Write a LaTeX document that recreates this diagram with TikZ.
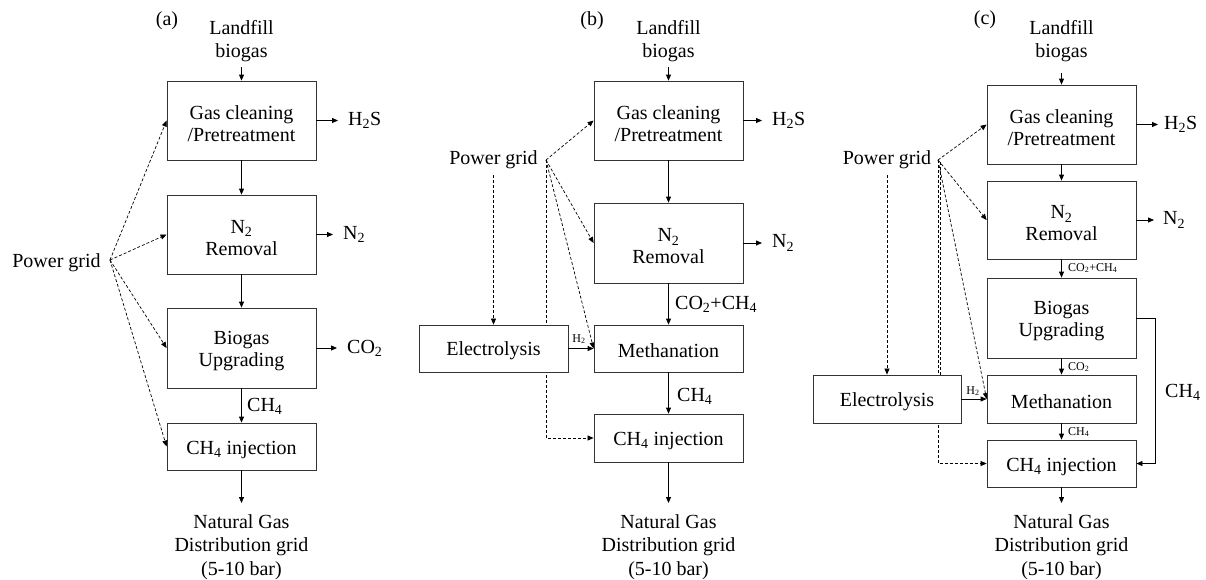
\documentclass[tikz,border=0pt]{standalone}
\usepackage{fontspec}
\setmainfont{Liberation Serif}
\usetikzlibrary{arrows.meta,backgrounds}
\newcommand\flowbox[5]{%
  \node[box, minimum height=#3] (#1) at (#2) {};
  \node[btext] (#1t) at ([yshift=-#4]#1.center) {#5};}
\begin{document}
\begin{tikzpicture}[x=1pt,y=-1pt,
  font=\fontsize{20}{22}\selectfont,
  box/.style={draw=black!80, line width=0.8pt, fill=white, minimum width=149pt, inner sep=0pt},
  btext/.style={align=center, inner sep=0pt, font=\fontsize{20}{22}\selectfont},
  arr/.style={line width=0.8pt, -{Triangle[length=6pt,width=5pt]}},
  darr/.style={line width=0.7pt, dash pattern=on 3pt off 2pt, -{Triangle[length=6pt,width=5pt]}},
  dline/.style={line width=0.7pt, dash pattern=on 3pt off 2pt},
  outl/.style={anchor=west, inner xsep=10pt, inner ysep=0pt},
  lbl/.style={anchor=west, inner sep=0pt},
  small/.style={font=\fontsize{12}{14}\selectfont},
  txt/.style={align=center, inner xsep=2pt, font=\fontsize{20}{23.5}\selectfont},
]
\useasboundingbox (0,0) rectangle (1206,579);

% ---------------- (a) ----------------
\node (alab) at (167,21) {(a)};
\flowbox{a1}{241.5,120.5}{79pt}{3.5pt}{Gas cleaning\\/Pretreatment}
\flowbox{a2}{241.5,234.5}{79pt}{3.5pt}{N\textsubscript{2}\\Removal}
\flowbox{a3}{241.5,348}{80pt}{3.5pt}{Biogas\\Upgrading}
\flowbox{a4}{241.5,446.5}{47pt}{3pt}{CH\textsubscript{4} injection}
\node[txt, anchor=south, inner ysep=4.5pt] (aL) at (241.5,67) {Landfill\\biogas};
\node[txt, anchor=north, inner ysep=11pt] (aN) at (241.5,503) {Natural Gas\\Distribution grid\\(5-10 bar)};
\node[outl] (aH) at (338,120.5) {H\textsubscript{2}S};
\node[outl] (aN2) at (333,234.5) {N\textsubscript{2}};
\node[outl] (aC) at (337,348) {CO\textsubscript{2}};
\node[lbl] (aCH) at (247,406) {CH\textsubscript{4}};
\node (aP) at (56.5,263) {Power grid};
\coordinate (aO) at (110,260);

\draw[arr] (aL) -- (a1);
\draw[arr] (a1) -- (a2);
\draw[arr] (a2) -- (a3);
\draw[arr] (a3) -- (a4);
\draw[arr] (a4) -- (aN);
\draw[arr] (a1) -- (aH);
\draw[arr] (a2) -- (aN2);
\draw[arr] (a3) -- (aC);
\draw[darr] (aO) -- (a1.west);
\draw[darr] (aO) -- (a2.west);
\draw[darr] (aO) -- (a3.west);
\draw[darr] (aO) -- (a4.west);

% ---------------- (b) ----------------
\node (blab) at (592,21) {(b)};
\flowbox{b1}{668.5,120.5}{79pt}{3.5pt}{Gas cleaning\\/Pretreatment}
\flowbox{b2}{668.5,243}{80pt}{3.5pt}{N\textsubscript{2}\\Removal}
\flowbox{bM}{668.5,348.5}{47pt}{2.5pt}{Methanation}
\flowbox{bI}{668.5,438}{48pt}{3pt}{CH\textsubscript{4} injection}
\flowbox{bE}{493.5,348.5}{47pt}{2.5pt}{Electrolysis}
\node[txt, anchor=south, inner ysep=4.5pt] (bL) at (668.5,67) {Landfill\\biogas};
\node[txt, anchor=north, inner ysep=11pt] (bN) at (668.5,503) {Natural Gas\\Distribution grid\\(5-10 bar)};
\node[outl] (bH) at (762,120.5) {H\textsubscript{2}S};
\node[outl] (bN2) at (762,243) {N\textsubscript{2}};
\node[lbl] (bCC) at (675,304) {CO\textsubscript{2}+CH\textsubscript{4}};
\node[lbl] (bCH) at (677,396) {CH\textsubscript{4}};
\node[small, inner sep=0pt] (bh2) at (579,339) {H\textsubscript{2}};
\node[inner ysep=6pt] (bP) at (493.5,160) {Power grid};
\coordinate (bO) at (546,160);

\draw[arr] (bL) -- (b1);
\draw[arr] (b1) -- (b2);
\draw[arr] (b2) -- (bM);
\draw[arr] (bM) -- (bI);
\draw[arr] (bI) -- (bN);
\draw[arr] (b1) -- (bH);
\draw[arr] (b2) -- (bN2);
\draw[arr] (bE) -- (bM);
\begin{scope}[on background layer]
\draw[darr] (bO) -- (b1.west);
\draw[darr] (bO) -- (b2.west);
\draw[darr] (bO) -- (bM.west);
\draw[darr] (bO) |- (bI.west);
\draw[darr] (bP) -- (bE);
\end{scope}

% ---------------- (c) ----------------
\node (clab) at (985,20) {(c)};
\flowbox{c1}{1061.5,124.5}{79pt}{3.5pt}{Gas cleaning\\/Pretreatment}
\flowbox{c2}{1061.5,220}{78pt}{3.5pt}{N\textsubscript{2}\\Removal}
\flowbox{c3}{1061.5,318}{80pt}{3.5pt}{Biogas\\Upgrading}
\flowbox{cM}{1061.5,399}{48pt}{2.5pt}{Methanation}
\flowbox{cI}{1061.5,463.5}{47pt}{3pt}{CH\textsubscript{4} injection}
\node[box, minimum width=148pt, minimum height=48pt] (cE) at (887,399) {};
\node[btext] (cEt) at ([yshift=-2.5pt]cE.center) {Electrolysis};
\node[txt, anchor=south, inner ysep=10.5pt] (cL) at (1061.5,73) {Landfill\\biogas};
\node[txt, anchor=north, inner ysep=11pt] (cN) at (1061.5,503) {Natural Gas\\Distribution grid\\(5-10 bar)};
\node[outl, inner xsep=6pt] (cH) at (1158,124.5) {H\textsubscript{2}S};
\node[outl, inner xsep=9pt] (cN2) at (1154,220) {N\textsubscript{2}};
\node[lbl, small] (cCC) at (1068,268) {CO\textsubscript{2}+CH\textsubscript{4}};
\node[lbl, small] (cC2) at (1068,367) {CO\textsubscript{2}};
\node[lbl, small] (cC4) at (1068,432) {CH\textsubscript{4}};
\node[lbl] (cCH) at (1165,392) {CH\textsubscript{4}};
\node[small, inner sep=0pt] (ch2) at (973,391) {H\textsubscript{2}};
\node[inner ysep=6pt] (cP) at (887,160) {Power grid};
\coordinate (cO) at (938,160);
\coordinate (cO2) at (940.5,162);
\coordinate (cB1) at (1155,318);
\coordinate (cB2) at (1155,463.5);

\draw[arr] (cL) -- (c1);
\draw[arr] (c1) -- (c2);
\draw[arr] (c2) -- (c3);
\draw[arr] (c3) -- (cM);
\draw[arr] (cM) -- (cI);
\draw[arr] (cI) -- (cN);
\draw[arr] (c1) -- (cH);
\draw[arr] (c2) -- (cN2);
\draw[arr] (cE) -- (cM);
\draw[arr] (c3.east) -- (cB1) -- (cB2) -- (cI.east);
\begin{scope}[on background layer]
\draw[darr] (cO) -- (c1.west);
\draw[darr] (cO) -- (c2.west);
\draw[darr] (cO) -- (cM.west);
\draw[darr] (cO) |- (cI.west);
\draw[dline] (cO2) -- (cO2 |- cE.north);
\draw[darr] (cP) -- (cE);
\end{scope}
\end{tikzpicture}
\end{document}
